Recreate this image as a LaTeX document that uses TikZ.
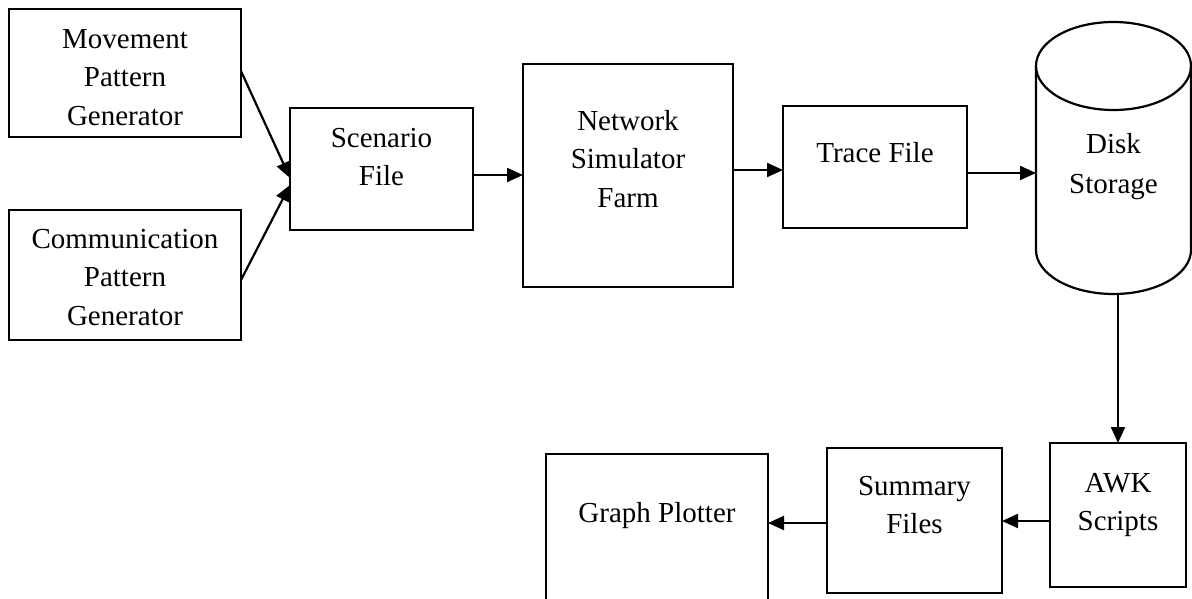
\documentclass[tikz,border=0pt]{standalone}
\usepackage{fontspec}
\setmainfont{Liberation Serif}
\usetikzlibrary{arrows.meta}
\begin{document}
\begin{tikzpicture}[x=1pt,y=-1pt,
  box/.style={draw, line width=2.2pt, inner sep=0pt, outer sep=0pt},
  txt/.style={anchor=north, inner sep=0pt, align=center,
    font=\fontsize{29}{38.5}\selectfont},
  flow/.style={line width=2.2pt, -{Triangle[length=16pt,width=14pt]}}]
\useasboundingbox (0,0) rectangle (1192,599);

% processing blocks
\node[box, minimum width=232, minimum height=128] (mov)   at (125,73)     {};
\node[box, minimum width=232, minimum height=130] (com)   at (125,275)    {};
\node[box, minimum width=183, minimum height=122] (scen)  at (381.5,169)  {};
\node[box, minimum width=210, minimum height=223] (net)   at (628,175.5)  {};
\node[box, minimum width=184, minimum height=122] (trace) at (875,167)    {};
\node[box, minimum width=136, minimum height=144] (awk)   at (1118,515)   {};
\node[box, minimum width=175, minimum height=145] (sum)   at (914.5,520.5){};
\node[box, minimum width=222, minimum height=146] (graph) at (657,527)    {};

% disk storage cylinder
\node[inner sep=0pt, outer sep=0pt, minimum width=155, minimum height=272] (disk) at (1113.5,158) {};
\draw[line width=2.2pt] (1113.5,66) ellipse [x radius=77.5pt, y radius=44pt];
\draw[line width=2.2pt] (1036,66) -- (1036,250)
  arc[start angle=180, end angle=360, x radius=77.5pt, y radius=44pt] -- (1191,66);

% labels
\node[txt] (tmov)   at (125,28)    {\rule{0pt}{20pt}Movement\\Pattern\\Generator};
\node[txt] (tcom)   at (125,228)   {\rule{0pt}{20pt}Communication\\Pattern\\Generator};
\node[txt] (tscen)  at (381.5,127) {\rule{0pt}{20pt}Scenario\\File};
\node[txt] (tnet)   at (628,110)   {\rule{0pt}{20pt}Network\\Simulator\\Farm};
\node[txt] (ttrace) at (875,142)   {\rule{0pt}{20pt}Trace File};
\node[txt, font=\fontsize{29}{40}\selectfont] (tdisk) at (1113.5,133) {\rule{0pt}{20pt}Disk\\Storage};
\node[txt] (tawk)   at (1118,472)  {\rule{0pt}{20pt}AWK\\Scripts};
\node[txt] (tsum)   at (914.5,475) {\rule{0pt}{20pt}Summary\\Files};
\node[txt] (tgraph) at (657,502)   {\rule{0pt}{20pt}Graph Plotter};

% connectors
\draw[flow] ([yshift=2pt]mov.east) -- ([yshift=-9pt]scen.west);
\draw[flow] ([yshift=-5pt]com.east) -- ([yshift=-16pt]scen.west);
\coordinate (sout) at ([yshift=-6pt]scen.east);
\draw[flow] (sout) -- (net.west |- sout);
\coordinate (tin) at ([yshift=-3pt]trace.west);
\draw[flow] (net.east |- tin) -- (tin);
\coordinate (tout) at ([yshift=-6pt]trace.east);
\draw[flow] (tout) -- (disk.west |- tout);
\draw[flow] (awk.north |- disk.south) -- (awk.north);
\coordinate (aout) at ([yshift=-6pt]awk.west);
\draw[flow] (aout) -- (sum.east |- aout);
\coordinate (mout) at ([yshift=-2.5pt]sum.west);
\draw[flow] (mout) -- (graph.east |- mout);
\end{tikzpicture}
\end{document}
